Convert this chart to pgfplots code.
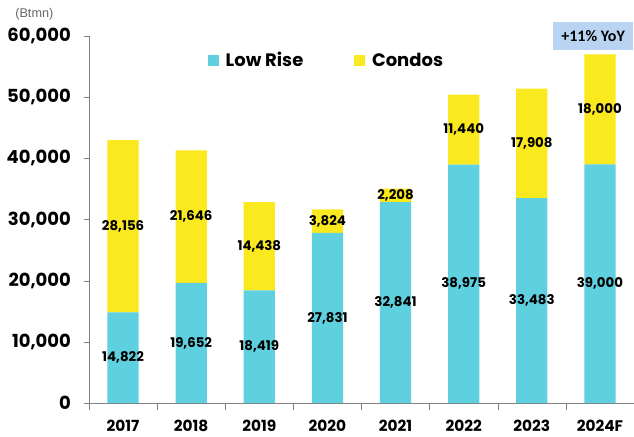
\documentclass[border=0pt]{standalone}
\usepackage{fontspec}
\setmainfont{Poppins}
\newfontfamily\calibri{Carlito}
\newfontfamily\arial{Liberation Sans}
\usepackage{pgfplots}
\usepackage{pgfplotstable}
\pgfplotsset{compat=1.18}

\definecolor{lowrise}{RGB}{94,208,223}
\definecolor{condo}{RGB}{250,233,30}
\definecolor{axisgray}{RGB}{128,128,128}
\definecolor{yoybox}{RGB}{184,212,242}

% residential sales, Btmn
\pgfplotstableread{
x low condo
0 14822 28156
1 19652 21646
2 18419 14438
3 27831 3824
4 32841 2208
5 38975 11440
6 33483 17908
7 39000 18000
}\sales

\pgfplotsset{
  salesaxis/.style={
    scale only axis, width=408.75pt, height=275.25pt,
    xmin=-0.5, xmax=7.5, ymin=0, ymax=60000,
  },
  lbl/.style={
    draw=none, mark=none,
    nodes near coords={\pgfmathprintnumber[fixed,precision=0,1000 sep={,},assume math mode=true]{\pgfplotspointmeta}},
    every node near coord/.append style={anchor=center, font=\fontsize{10}{12}\selectfont\bfseries},
  },
}

\begin{document}
\begin{tikzpicture}
\begin{axis}[salesaxis,
    ybar stacked, bar width=0.46,
    axis x line=bottom, axis y line=left,
    axis line style={axisgray, -},
    tick align=outside,
    xtick={0,...,7},
    xticklabels={2017,2018,2019,2020,2021,2022,2023,2024F},
    major x tick style={draw=none},
    minor xtick={-0.5,0.5,...,6.5},
    minor x tick style={axisgray},
    minor tick length=5pt,
    major tick length=4pt,
    ytick={0,10000,...,60000},
    y tick style={axisgray},
    /pgf/number format/assume math mode=true,
    yticklabel style={/pgf/number format/fixed, /pgf/number format/1000 sep={,},
      font=\fontsize{13.5}{15}\selectfont\bfseries, xshift=-6pt},
    xticklabel style={font=\fontsize{11.5}{14}\selectfont\bfseries, yshift=-5pt},
    scaled y ticks=false,
    legend style={at={(axis cs:2.99,56000)}, anchor=center, draw=none, fill=none,
      font=\fontsize{13.5}{16}\selectfont\bfseries,
      /tikz/every even column/.append style={column sep=36pt}},
    legend columns=2,
    legend image code/.code={\fill[#1] (0pt,-4.1pt) rectangle (8.25pt,4.1pt); \path (11.5pt,0pt);},
    clip=false,
]
\addplot[fill=lowrise, draw=none] table[x=x, y=low] {\sales};
\addlegendentry{Low Rise}
\addplot[fill=condo, draw=none] table[x=x, y=condo] {\sales};
\addlegendentry{Condos}
\draw[axisgray] (axis cs:-0.5,0) -- ++(-4.5pt,0);
\node[fill=yoybox, minimum width=60pt, minimum height=21pt, inner sep=0pt,
  font=\calibri\fontsize{12}{14}\selectfont\bfseries] at (axis cs:6.9,60000) {+11\% YoY};
\node[text=axisgray!80!black, font=\arial\fontsize{9.5}{11}\selectfont, anchor=center]
  at (axis cs:-0.5,60000) [xshift=-41pt, yshift=16pt] {(Btmn)};
\end{axis}
\begin{axis}[salesaxis, hide axis]
\addplot[lbl, point meta=\thisrow{low}] table[x=x, y expr=\thisrow{low}/2] {\sales};
\addplot[lbl, point meta=\thisrow{condo}] table[x=x, y expr=\thisrow{low}+\thisrow{condo}/2] {\sales};
\end{axis}
\pgfresetboundingbox
\path[use as bounding box] (-66.75pt,-24.75pt) rectangle (408.75pt,302.25pt);
\end{tikzpicture}
\end{document}
